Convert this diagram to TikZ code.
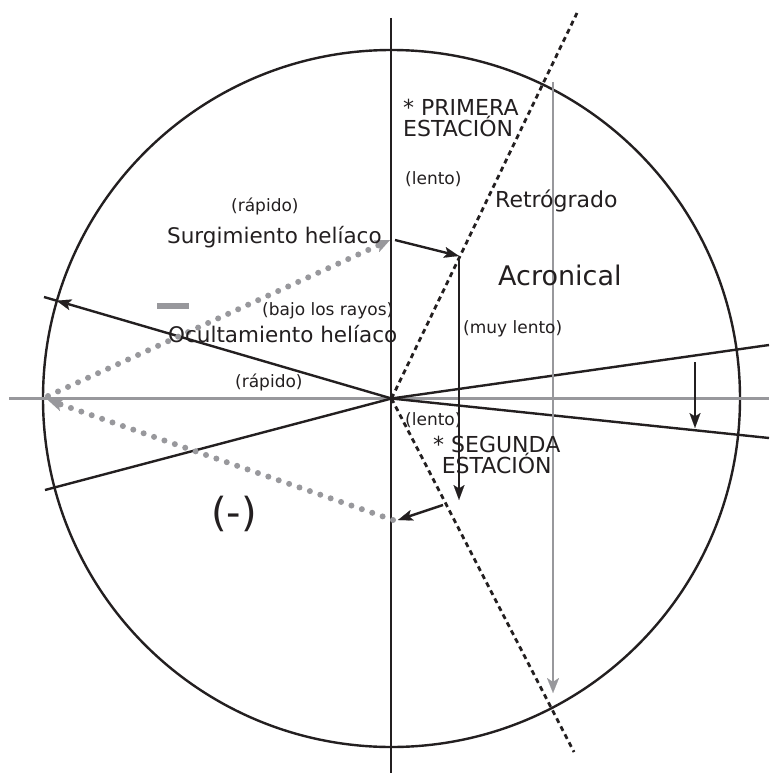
\documentclass[tikz,border=0pt]{standalone}
\usepackage{fontspec}
\setmainfont{DejaVu Sans}
\usepackage{xcolor}
\usepackage{tikz}
\usetikzlibrary{arrows.meta, positioning, calc}

\definecolor{ink}{RGB}{35,31,32}
\definecolor{raygray}{RGB}{152,152,156}

\begin{document}
\begin{tikzpicture}[x=1pt, y=-1pt,
  arrow/.style={-{Stealth[length=15pt, width=11pt, inset=3.5pt, line width=0.1pt]}, line width=2.4pt, draw=ink},
  gray_arrow/.style={-{Stealth[length=15pt, width=12pt, inset=4pt, line width=0.1pt]}, line width=2.8pt, draw=raygray},
  dot_arrow/.style={-{Stealth[length=15pt, width=13pt, inset=4pt, line width=0.1pt]}, draw=raygray, line width=6pt, line cap=round, dash pattern=on 0pt off 11pt},
  ray/.style={draw=ink, line width=2.4pt},
  dash_ray/.style={draw=ink, line width=2.8pt, dash pattern=on 5pt off 4pt},
  small_label/.style={font=\fontsize{17}{20}\selectfont, text=ink, inner sep=0pt, anchor=base west},
  main_label/.style={font=\fontsize{21.5}{24}\selectfont, text=ink, inner sep=0pt, anchor=base west},
  station_box/.style={font=\fontsize{22}{20}\selectfont, text=ink, inner sep=0pt, anchor=north west}
]
  \useasboundingbox[fill=white] (0,0) rectangle (769,773);

  % Circle and axes
  \coordinate (center) at (391.5,398.5);
  \draw[ray] (center) circle (348.5);
  \coordinate (axis_top) at (391,18);
  \coordinate (axis_bottom) at (391,773);
  \draw[ray] (axis_top) -- (axis_bottom);
  \coordinate (horizon_left) at (9,398.5);
  \coordinate (horizon_right) at (769,398.5);
  \draw[draw=raygray, line width=2.8pt] (horizon_left) -- (horizon_right);

  % Rays from the center
  \coordinate (ray_a_tip) at (56.4,300.6);
  \coordinate (ray_a_end) at (44,297);
  \draw[arrow] (center) -- (ray_a_tip);
  \draw[ray] (ray_a_tip) -- (ray_a_end);
  \coordinate (ray_b_end) at (45,490);
  \draw[ray] (center) -- (ray_b_end);
  \coordinate (ray_c_end) at (769,345);
  \draw[ray] (center) -- (ray_c_end);
  \coordinate (ray_d_end) at (769,438);
  \draw[ray] (center) -- (ray_d_end);
  \coordinate (dash_top) at (577,13);
  \coordinate (dash_bottom) at (574,752);
  \draw[dash_ray] (center) -- (dash_top);
  \draw[dash_ray] (center) -- (dash_bottom);

  % Gray vertical
  \coordinate (gray_top) at (553,82);
  \coordinate (gray_tip) at (553,693);
  \draw[gray_arrow] (gray_top) -- (gray_tip);

  % Path of the planet
  \coordinate (rise_start) at (48,396);
  \coordinate (rise_end) at (390,240);
  \draw[dot_arrow] (rise_start) -- (rise_end);
  \coordinate (first_start) at (395,240);
  \coordinate (first_turn) at (459,256);
  \draw[arrow] (first_start) -- (first_turn);
  \coordinate (retro_start) at (459,257);
  \coordinate (retro_end) at (459,500);
  \draw[arrow] (retro_start) -- (retro_end);
  \coordinate (second_start) at (443,505);
  \coordinate (second_end) at (398,520);
  \draw[arrow] (second_start) -- (second_end);
  \coordinate (set_start) at (393,520);
  \coordinate (set_end) at (48,400);
  \draw[dot_arrow] (set_start) -- (set_end);
  \coordinate (drop_start) at (695,362);
  \coordinate (drop_end) at (695,428);
  \draw[arrow] (drop_start) -- (drop_end);

  % Gray bar
  \coordinate (bar_left) at (157,306);
  \coordinate (bar_right) at (189,306);
  \draw[draw=raygray, line width=6pt] (bar_left) -- (bar_right);

  % Labels
  \node (first_station) [station_box, align=left] at (403,98.5) {* PRIMERA\\ESTACIÓN};
  \node (slow_top) [small_label] at (405,184) {(lento)};
  \node (retrograde) [main_label, font=\fontsize{22}{24}\selectfont] at (495,207) {Retrógrado};
  \node (fast_top) [small_label] at (231,211) {(rápido)};
  \node (rising) [main_label] at (167,243) {Surgimiento helíaco};
  \node (acronical) [main_label, font=\fontsize{27}{30}\selectfont] at (498,285) {Acronical};
  \node (under_rays) [small_label] at (262,315) {(bajo los rayos)};
  \node (very_slow) [small_label] at (463,333) {(muy lento)};
  \node (setting) [main_label] at (168,342) {Ocultamiento helíaco};
  \node (fast_mid) [small_label] at (235,387) {(rápido)};
  \node (slow_mid) [small_label] at (405,425) {(lento)};
  \node (second_station) [station_box, align=center] at (433,435.5) {* SEGUNDA\\ESTACIÓN};
  \node (minus_sign) [text=ink, inner sep=0pt, font=\fontsize{40}{44}\selectfont] at (234,514) {(-)};

\end{tikzpicture}
\end{document}
